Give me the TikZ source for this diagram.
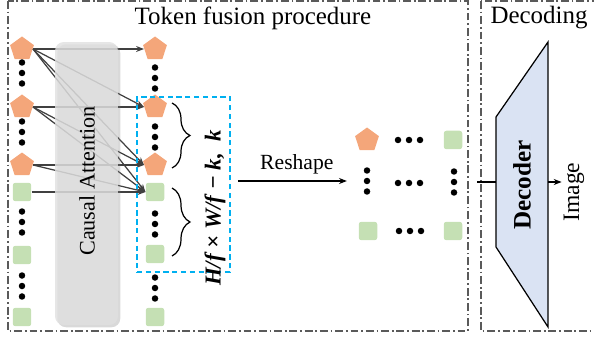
\documentclass[tikz,border=0pt]{standalone}
\usepackage{fontspec}
\setmainfont{Liberation Serif}
\usepackage{xcolor}
\usepackage{tikz}
\usetikzlibrary{arrows.meta,positioning,calc,decorations.pathreplacing,shapes.geometric,shadows}

\definecolor{tokorange}{RGB}{244,166,122}
\definecolor{tokgreen}{RGB}{197,224,180}
\definecolor{boxcyan}{RGB}{0,176,240}
\definecolor{decblue}{RGB}{218,227,243}
\definecolor{linegray}{RGB}{64,64,64}
\definecolor{framegray}{RGB}{90,90,90}

\begin{document}
\begin{tikzpicture}[
    x=0.02cm, y=-0.02cm,
    pent/.style={regular polygon, regular polygon sides=5, fill=tokorange,
                 minimum size=0.5cm, inner sep=0pt},
    sq/.style={rectangle, rounded corners=1.5pt, fill=tokgreen,
               minimum size=0.37cm, inner sep=0pt},
    vdots/.style={minimum width=0.15cm, minimum height=0.6cm, inner sep=0pt,
        path picture={\foreach \k in {-1,0,1}
            \fill ($(path picture bounding box.center)+(0,\k*0.21cm)$) circle (0.065cm);}},
    hdots/.style={minimum width=0.6cm, minimum height=0.15cm, inner sep=0pt,
        path picture={\foreach \k in {-1,0,1}
            \fill ($(path picture bounding box.center)+(\k*0.22cm,0)$) circle (0.065cm);}},
    arrow/.style={-{Stealth[length=4.5pt,width=3.4pt]}, line width=0.7pt, draw=linegray},
    frame/.style={draw=framegray, line width=0.6pt,
                  dash pattern=on 4.5pt off 1.6pt on 1pt off 1.6pt},
    title/.style={font=\fontsize{14.2}{16}\selectfont},
]
    \useasboundingbox (0,0) rectangle (594,337);

    % Frames
    \draw[frame] (8,1) rectangle (468,331);
    \draw[frame] (481,1) rectangle (600,331);
    \node[title] (ttoken) at (253,18) {Token fusion procedure};
    \node[title] (tdecode) at (539,18) {Decoding};

    % Input tokens
    \node[pent] (lp1) at (22,49) {};
    \node[vdots] (ld1) at (22,73) {};
    \node[pent] (lp2) at (22,107) {};
    \node[vdots] (ld2) at (22,132) {};
    \node[pent] (lp3) at (22,165) {};
    \node[sq] (ls1) at (22,192) {};
    \node[vdots] (ld3) at (22,222) {};
    \node[sq] (ls2) at (22,255) {};
    \node[vdots] (ld4) at (22,286) {};
    \node[sq] (ls3) at (22,317) {};

    % Output tokens
    \node[pent] (rp1) at (155,49) {};
    \node[vdots] (rd1) at (155,78) {};
    \node[pent] (rp2) at (155,107) {};
    \node[vdots] (rd2) at (155,137) {};
    \node[pent] (rp3) at (155,165) {};
    \node[sq] (rs1) at (155,192) {};
    \node[vdots] (rd3) at (155,224) {};
    \node[sq] (rs2) at (155,254) {};
    \node[vdots] (rd4) at (155,288) {};
    \node[sq] (rs3) at (155,317) {};

    % Causal connections
    \foreach \src/\dst in {lp1/rp1, lp1/rp2, lp1/rp3, lp1/rs1, lp2/rp2,
                           lp2/rp3, lp2/rs1, lp3/rp3, lp3/rs1, ls1/rs1}
        \draw[arrow] (\src.east) -- (\dst.west);

    % Attention block
    \node[rectangle, rounded corners=5pt, fill=gray!24, fill opacity=0.82,
          drop shadow={opacity=0.3, shadow xshift=1.3pt, shadow yshift=-1.3pt},
          minimum width=1.26cm, minimum height=5.66cm] (attn) at (86.5,183.5) {};
    \node[rotate=90, font=\fontsize{12.6}{14}\selectfont] (attntxt) at (87,181) {Causal Attention};

    % Fused group
    \node[draw=boxcyan, line width=0.9pt, dash pattern=on 3pt off 2pt,
          minimum width=1.86cm, minimum height=3.5cm] (grp) at (183.5,184.5) {};
    \draw[line width=0.7pt, decorate, decoration={brace, amplitude=0.36cm}]
        (172,103) -- (172,168);
    \draw[line width=0.7pt, decorate, decoration={brace, amplitude=0.36cm}]
        (172,188) -- (172,256);
    \node[rotate=90, font=\fontsize{13}{15}\selectfont\bfseries\itshape] (dims)
        at (215,208) {H/f × W/f − k,\ \ k};

    % Reshaped grid
    \node[pent] (g11) at (367,140) {};
    \node[hdots] (g12) at (409,140) {};
    \node[sq] (g13) at (453,140) {};
    \node[vdots] (g21) at (367,181) {};
    \node[hdots] (g22) at (409,183) {};
    \node[vdots] (g23) at (454,182) {};
    \node[sq] (g31) at (368,231) {};
    \node[hdots] (g32) at (410,231) {};
    \node[sq] (g33) at (453,231) {};

    \draw[arrow, draw=black, shorten <=0.14cm, shorten >=0.32cm] (grp.east |- g21) --
        node[above, font=\fontsize{12.3}{14}\selectfont] {Reshape} (g21.west);

    % Decoder
    \coordinate (dectl) at (496,117);
    \coordinate (decbl) at (496,247);
    \coordinate (dectr) at (548,42);
    \coordinate (decbr) at (548,327);
    \coordinate (decin) at (496,182);
    \coordinate (decout) at (548,182);
    \draw[fill=decblue, line width=0.7pt] (dectl) -- (dectr) -- (decbr) -- (decbl) -- cycle;
    \node[rotate=90, font=\fontsize{14.3}{16}\selectfont\bfseries] (dec) at (522,185) {Decoder};
    \node[rotate=90, inner sep=1pt, font=\fontsize{13.4}{15}\selectfont] (img) at (574,192) {Image};

    \draw[line width=0.7pt, shorten <=0.38cm] (g23.east) -- (decin);
    \draw[arrow, draw=black] (decout) -- (decout -| img.north);
\end{tikzpicture}
\end{document}
